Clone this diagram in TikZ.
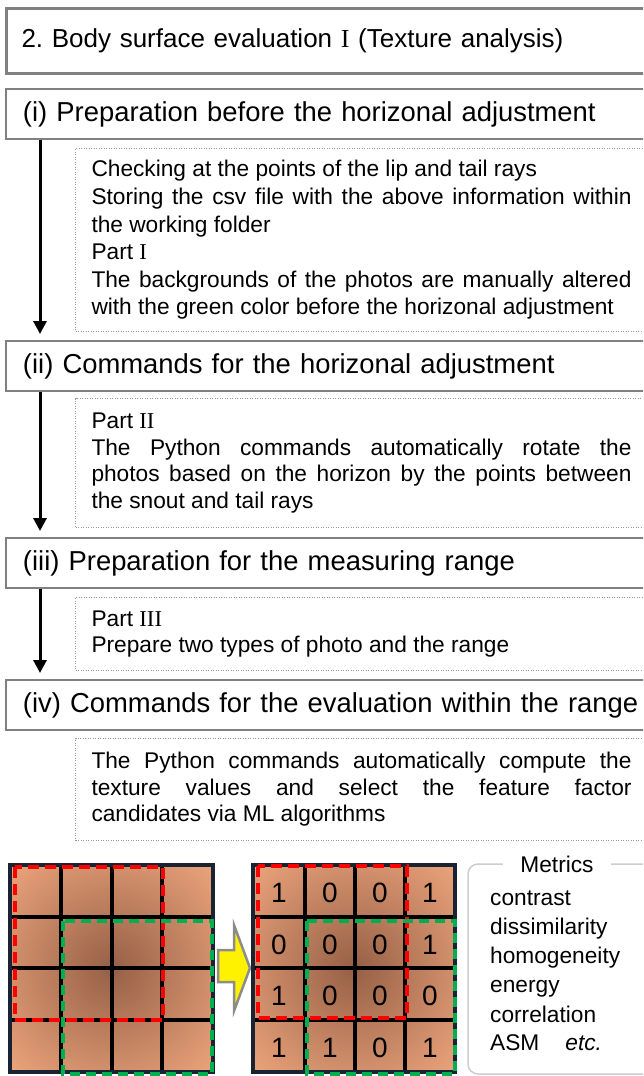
\documentclass[tikz,border=0pt]{standalone}
\usepackage{fontspec}
\setmainfont{Liberation Sans}
\newfontfamily\romfont{Liberation Serif}
\usetikzlibrary{positioning, arrows.meta}
\frenchspacing

\definecolor{boxgray}{RGB}{128,128,128}
\definecolor{dotgray}{RGB}{150,150,150}
\definecolor{tilelight}{RGB}{236,164,124}
\definecolor{tiledark}{RGB}{150,96,70}
\definecolor{tileframe}{RGB}{25,35,50}
\definecolor{dashgreen}{RGB}{0,176,80}
\definecolor{metricgray}{RGB}{205,205,205}
\definecolor{arrowgray}{RGB}{140,140,140}

\newcommand{\rn}[1]{{\romfont #1}}

\tikzset{
  titlebox/.style={draw=boxgray, line width=3pt, anchor=north west, minimum height=65pt, text width=616pt, inner xsep=15pt, inner ysep=0pt, align=left, font=\fontsize{26}{31}\selectfont},
  stepbox/.style={draw=boxgray, line width=2pt, anchor=north west, minimum height=50pt, text width=616pt, inner xsep=17pt, inner ysep=0pt, align=left, font=\fontsize{27.4}{32}\selectfont},
  notebox/.style={draw=dotgray, line width=1pt, dash pattern=on 1pt off 1.5pt, anchor=north west, text width=540pt, inner xsep=16pt, inner ysep=0pt, align=justify, font=\fontsize{22.7}{26.5}\selectfont},
  flowarrow/.style={line width=3pt, -{Triangle[width=13pt,length=13pt]}, shorten >=6pt},
  tileline/.style={black, line width=3.2pt},
  tileborder/.style={tileframe, line width=3.5pt},
  reddash/.style={red, line width=4.5pt, dash pattern=on 11pt off 6pt},
  greendash/.style={dashgreen, line width=4.5pt, dash pattern=on 10pt off 6pt},
  digit/.style={font=\fontsize{28}{32}\selectfont, inner sep=0pt},
  metric/.style={anchor=base west, inner sep=0pt, font=\fontsize{22.7}{27}\selectfont},
}

\begin{document}
\begin{tikzpicture}[x=1pt, y=-1pt]
\useasboundingbox (0,0) rectangle (643,1076);
\clip (0,0) rectangle (643,1076);

% title and steps
\node[titlebox] (title) at (5,7) {2. Body surface evaluation \rn{I} (Texture analysis)};
\node[stepbox] (h1) at (5,88) {(i) Preparation before the horizonal adjustment};
\node[stepbox] (h2) at (5,340) {(ii) Commands for the horizonal adjustment};
\node[stepbox] (h3) at (5,537) {(iii) Preparation for the measuring range};
\node[stepbox] (h4) at (5,679) {(iv) Commands for the evaluation within the range};

% notes
\node[notebox, minimum height=183pt, font=\fontsize{22.7}{27.6}\selectfont] (d1) at (75,148) {Checking at the points of the lip and tail rays\newline
Storing the csv file with the above information within\linebreak
the working folder\newline
Part \rn{I}\newline
The backgrounds of the photos are manually altered\linebreak
with the green color before the horizonal adjustment};
\node[notebox, minimum height=129pt] (d2) at (75,398) {Part \rn{II}\newline
The Python commands automatically rotate the\linebreak
photos based on the horizon by the points between\linebreak
the snout and tail rays};
\node[notebox, minimum height=73pt] (d3) at (75,597) {Part \rn{III}\newline
Prepare two types of photo and the range};
\node[notebox, minimum height=102pt] (d4) at (75,738) {The Python commands automatically compute the\linebreak
texture values and select the feature factor\linebreak
candidates via ML algorithms};

\coordinate (ax) at (40,0);
\draw[flowarrow] (h1.south -| ax) -- (h2.north -| ax);
\draw[flowarrow] (h2.south -| ax) -- (h3.north -| ax);
\draw[flowarrow] (h3.south -| ax) -- (h4.north -| ax);

% left texture grid
\begin{scope}
\clip (10,865) rectangle (213,1072);
\shade[inner color=tiledark, outer color=tilelight] (111.5,968.5) circle (145);
\end{scope}
\draw[tileline] (61,865) -- (61,1072);
\draw[tileline] (112,865) -- (112,1072);
\draw[tileline] (162,865) -- (162,1072);
\draw[tileline] (10,917) -- (213,917);
\draw[tileline] (10,968) -- (213,968);
\draw[tileline] (10,1020) -- (213,1020);
\draw[tileborder] (10,865) rectangle (213,1072);
\draw[reddash] (15,867) rectangle (163,1020);
\draw[greendash] (63,921) rectangle (212,1074);

% yellow arrow
\draw[arrowgray, line width=2.5pt, fill=yellow, line join=miter] (218,950) -- (234,950) -- (234,925) -- (250,968) -- (234,1011) -- (234,982) -- (218,982) -- cycle;

% right texture grid
\begin{scope}
\clip (253,865) rectangle (455,1072);
\shade[inner color=tiledark, outer color=tilelight] (354,968.5) circle (145);
\end{scope}
\draw[tileline] (305,865) -- (305,1072);
\draw[tileline] (355,865) -- (355,1072);
\draw[tileline] (405,865) -- (405,1072);
\draw[tileline] (253,917) -- (455,917);
\draw[tileline] (253,968) -- (455,968);
\draw[tileline] (253,1020) -- (455,1020);
\draw[tileborder] (253,865) rectangle (455,1072);

\node[digit] (g11) at (279,893) {1};
\node[digit] (g12) at (330,893) {0};
\node[digit] (g13) at (380,893) {0};
\node[digit] (g14) at (430,893) {1};
\node[digit] (g21) at (279,945) {0};
\node[digit] (g22) at (330,945) {0};
\node[digit] (g23) at (380,945) {0};
\node[digit] (g24) at (430,945) {1};
\node[digit] (g31) at (279,996) {1};
\node[digit] (g32) at (330,996) {0};
\node[digit] (g33) at (380,996) {0};
\node[digit] (g34) at (430,996) {0};
\node[digit] (g41) at (279,1048) {1};
\node[digit] (g42) at (330,1048) {1};
\node[digit] (g43) at (380,1048) {0};
\node[digit] (g44) at (430,1048) {1};

\draw[reddash] (258,866) rectangle (407,1018);
\draw[greendash] (307,921) rectangle (455,1074);

% metrics
\draw[metricgray, line width=1.5pt, rounded corners=10pt] (468,864) rectangle (670,1074);
\node[fill=white, inner xsep=17pt, inner ysep=2pt, anchor=base, font=\fontsize{22.7}{27}\selectfont] (mtitle) at (557,872) {Metrics};
\node[metric] (m1) at (490,905) {contrast};
\node[metric] (m2) at (490,934) {dissimilarity};
\node[metric] (m3) at (490,963) {homogeneity};
\node[metric] (m4) at (490,992) {energy};
\node[metric] (m5) at (490,1022) {correlation};
\node[metric] (m6) at (490,1050) {ASM\hspace{26pt}\textit{etc.}};

\end{tikzpicture}
\end{document}
